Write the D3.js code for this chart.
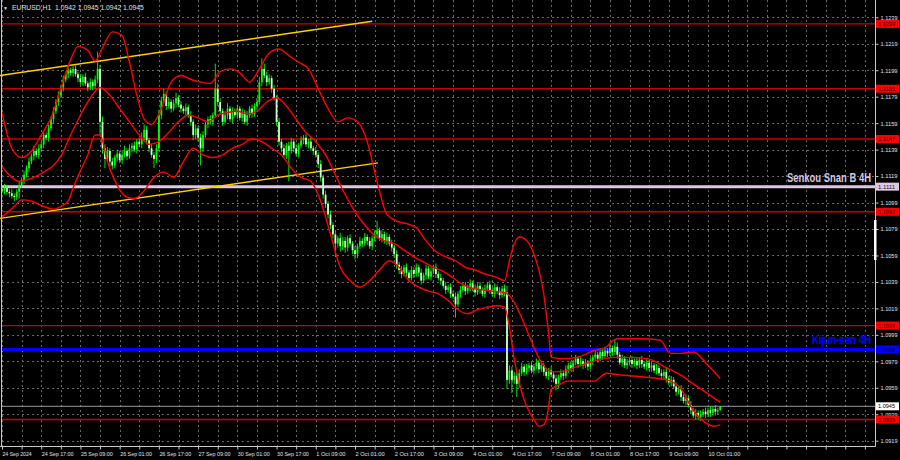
<!DOCTYPE html>
<html><head><meta charset="utf-8">
<script src="https://cdn.jsdelivr.net/npm/d3@7/dist/d3.min.js"></script>
<style>body{margin:0;background:#000}svg{display:block}</style>
</head><body><svg id="c" width="900" height="460"></svg>
<script>
// ---------- DATA ----------
const symbolTitle = "EURUSD,H1  1.0942 1.0945 1.0942 1.0945";
const firstOpen = 1.1109;
const closes = [
1.1108,1.1110,1.1107,1.1106,1.1104,1.1103,1.1107,1.1112,1.1116,1.1120,
1.1125,1.1130,1.1134,1.1138,1.1135,1.1140,1.1143,1.1150,1.1148,1.1155,
1.1162,1.1168,1.1175,1.1180,1.1186,1.1192,1.1196,1.1199,1.1197,1.1200,
1.1196,1.1193,1.1190,1.1194,1.1189,1.1186,1.1190,1.1187,1.1192,1.1200,
1.1160,1.1140,1.1132,1.1138,1.1130,1.1127,1.1133,1.1136,1.1131,1.1135,
1.1138,1.1134,1.1140,1.1142,1.1139,1.1145,1.1143,1.1148,1.1154,1.1146,
1.1140,1.1135,1.1132,1.1140,1.1165,1.1176,1.1181,1.1172,1.1175,1.1170,
1.1174,1.1178,1.1173,1.1170,1.1168,1.1171,1.1165,1.1160,1.1150,1.1155,
1.1148,1.1140,1.1150,1.1158,1.1162,1.1160,1.1165,1.1185,1.1175,1.1168,
1.1160,1.1165,1.1170,1.1162,1.1168,1.1165,1.1170,1.1163,1.1167,1.1160,
1.1165,1.1170,1.1166,1.1172,1.1175,1.1190,1.1200,1.1195,1.1190,1.1193,
1.1185,1.1178,1.1160,1.1145,1.1140,1.1135,1.1142,1.1138,1.1145,1.1140,
1.1136,1.1142,1.1146,1.1148,1.1143,1.1145,1.1140,1.1138,1.1135,1.1128,
1.1118,1.1105,1.1098,1.1090,1.1082,1.1075,1.1068,1.1072,1.1066,1.1070,
1.1065,1.1072,1.1068,1.1063,1.1060,1.1066,1.1070,1.1068,1.1073,1.1070,
1.1066,1.1072,1.1075,1.1078,1.1072,1.1075,1.1070,1.1073,1.1068,1.1065,
1.1060,1.1052,1.1048,1.1045,1.1050,1.1046,1.1042,1.1048,1.1045,1.1050,
1.1046,1.1040,1.1044,1.1049,1.1043,1.1047,1.1050,1.1045,1.1042,1.1040,
1.1036,1.1033,1.1035,1.1030,1.1028,1.1022,1.1030,1.1033,1.1036,1.1032,
1.1035,1.1038,1.1034,1.1031,1.1036,1.1033,1.1030,1.1034,1.1037,1.1033,
1.1030,1.1035,1.1032,1.1029,1.1034,1.1031,1.0965,1.0972,1.0965,1.0968,
1.0962,1.0970,1.0975,1.0971,1.0974,1.0976,1.0972,1.0975,1.0978,1.0973,
1.0976,1.0971,1.0968,1.0972,1.0969,1.0966,1.0962,1.0967,1.0970,1.0968,
1.0973,1.0976,1.0974,1.0978,1.0981,1.0977,1.0979,1.0976,1.0978,1.0975,
1.0979,1.0982,1.0984,1.0981,1.0986,1.0983,1.0987,1.0985,1.0989,1.0986,
1.0990,1.0984,1.0978,1.0981,1.0976,1.0978,1.0980,1.0977,1.0979,1.0976,
1.0980,1.0977,1.0975,1.0978,1.0974,1.0976,1.0972,1.0974,1.0970,1.0968,
1.0971,1.0966,1.0963,1.0965,1.0960,1.0956,1.0958,1.0952,1.0949,1.0951,
1.0946,1.0942,1.0938,1.0940,1.0937,1.0939,1.0941,1.0939,1.0942,1.0940,
1.0943,1.0941,1.0942,1.0945];
const wickUp = [
2,3,2,2,3,2,2,3,2,3, 2,3,2,4,2,3,2,3,2,3,
2,3,2,3,2,3,2,4,2,3, 3,2,3,2,3,2,3,2,3,13,
3,4,3,3,2,3,2,3,2,3, 4,2,3,2,3,2,3,4,4,3,
2,3,2,3,4,3,4,2,3,2, 3,4,2,3,2,3,2,3,2,3,
2,3,3,3,2,3,2,19,4,3, 2,3,4,2,3,2,3,2,3,2,
3,2,3,2,3,4,8,4,3,3, 2,3,2,3,2,3,2,3,3,2,
3,2,3,2,3,2,3,2,3,2, 3,2,3,2,3,2,3,2,4,3,
3,2,3,2,3,2,3,2,3,2, 3,2,3,7,2,3,2,3,2,3,
2,3,2,3,2,3,2,3,2,3, 2,3,2,3,2,3,2,3,2,3,
2,3,2,3,2,3,2,3,2,3, 2,3,2,3,2,3,2,3,2,3,
2,3,2,3,2,3,5,4,3,3, 4,3,3,2,3,2,3,2,3,2,
3,2,3,2,3,2,3,2,3,2, 3,2,3,2,3,2,3,2,3,2,
3,2,3,2,3,2,3,2,3,2, 6,3,2,3,2,3,2,3,2,3,
2,3,2,3,2,3,2,3,2,3, 2,3,2,3,2,3,2,3,2,3,
2,3,2,3,2,3,2,3,2,3, 2,3,2,0];
const wickDn = [
2,3,2,3,2,3,2,5,2,3, 2,3,2,3,2,3,2,3,2,3,
2,3,2,3,2,3,2,3,2,3, 2,3,2,3,2,3,2,3,2,3,
10,4,7,3,4,3,2,3,2,3, 2,3,2,3,2,3,2,3,2,3,
3,2,7,3,2,3,2,3,2,3, 2,3,2,3,2,3,2,3,4,3,
3,13,3,2,3,2,3,2,3,2, 3,2,3,2,3,2,3,2,3,2,
3,2,3,2,3,2,3,2,3,2, 3,2,3,3,3,2,3,23,2,3,
2,3,2,3,2,3,2,3,2,3, 3,3,3,3,3,3,10,3,4,3,
4,3,2,3,4,3,2,3,2,3, 2,3,2,3,2,3,2,3,2,3,
3,3,3,3,2,3,3,2,3,2, 3,3,2,3,2,3,2,3,2,3,
2,3,2,3,2,10,2,3,2,3, 2,3,2,3,2,3,2,3,2,3,
2,3,2,3,2,3,7,3,10,3, 10,3,2,3,2,3,2,3,2,3,
2,3,2,3,2,3,5,3,2,3, 2,3,2,3,2,3,2,3,2,3,
2,3,2,3,2,3,2,3,2,3, 2,3,2,3,2,3,2,3,2,3,
2,3,2,3,2,3,2,3,2,3, 2,3,2,3,2,3,2,3,2,3,
2,3,2,3,2,3,2,3,2,3, 2,3,2,0];

const timeLabelBars = [0,16,32,48,64,80,96,112,128,144,160,176,192,208,224,240,256,272,288];
const timeLabelTexts = ["24 Sep 2024","24 Sep 17:00","25 Sep 09:00","26 Sep 01:00","26 Sep 17:00","27 Sep 09:00","30 Sep 01:00","30 Sep 17:00","1 Oct 09:00","2 Oct 01:00","2 Oct 17:00","3 Oct 09:00","4 Oct 01:00","4 Oct 17:00","7 Oct 09:00","8 Oct 01:00","8 Oct 17:00","9 Oct 09:00","10 Oct 01:00"];
const priceTicks = [1.1239,1.1219,1.1199,1.1179,1.1159,1.1139,1.1119,1.1099,1.1079,1.1059,1.1039,1.1019,1.0999,1.0979,1.0959,1.0939,1.0919];

const levelPrices = [1.1234,1.1185,1.1147,1.1092,1.1006,1.0935];
const senkouPrice = 1.1111, senkouText = "Senkou Snan B 4H";
const kijunPrice = 1.0988, kijunText = "Kijun-sen 4H";
const lastPrice = 1.0945;

const channelUpperBars = [-1, 151], channelUpperVals = [1.1195, 1.1236];
const channelLowerBars = [-1, 153.4], channelLowerVals = [1.1087, 1.1129];

const upperBars = [0,4,8,12,16,20,24,28,31,35,38,41,45,49,52,55,58,61,65,69,73,77,81,85,89,93,97,101,105,109,113,117,121,125,129,133,137,141,145,149,153,157,161,165,169,173,177,181,185,189,193,197,201,205,207,209,211,213,215,217,219,221,222,223,224,229,234.5,241.3,246.7,249.4,252.1,260,268.5,272.6,276.6,282,287.5,293];
const upperVals = [1.1167,1.1140,1.1133,1.1138,1.1150,1.1163,1.1185,1.1207,1.1217,1.1214,1.1206,1.1216,1.1228,1.1225,1.1205,1.1180,1.1162,1.1158,1.1170,1.1190,1.1195,1.1192,1.1190,1.1189,1.1198,1.1200,1.1197,1.1190,1.1200,1.1212,1.1215,1.1210,1.1205,1.1200,1.1185,1.1170,1.1160,1.1163,1.1160,1.1145,1.1115,1.1090,1.1085,1.1083,1.1080,1.1070,1.1062,1.1058,1.1055,1.1050,1.1048,1.1045,1.1043,1.1040,1.1055,1.1068,1.1073,1.1072,1.1068,1.1060,1.1048,1.1030,1.1015,1.1000,1.0982,1.0981,1.0982,1.0987,1.0990,1.0995,1.0996,1.0996,1.0995,1.0985,1.0985,1.0986,1.0977,1.0966];
const midBars = [0,4,7,10,13,17,21,24,28,32,36,40,44,48,52,56,60,64,68,72,76,80,84,88,92,96,100,104,108,112,116,120,124,128,132,136,140,144,148,152,156,160,164,168,172,176,180,184,188,192,196,200,205,224.3,230.4,234.5,241.3,249.4,254.9,263,271.2,276.6,282,287.5,293];
const midVals = [1.1126,1.1118,1.1115,1.1116,1.1118,1.1122,1.1127,1.1134,1.1150,1.1165,1.1178,1.1186,1.1180,1.1170,1.1160,1.1150,1.1143,1.1145,1.1152,1.1160,1.1165,1.1163,1.1160,1.1165,1.1167,1.1168,1.1166,1.1168,1.1175,1.1178,1.1172,1.1162,1.1152,1.1145,1.1135,1.1120,1.1105,1.1092,1.1082,1.1074,1.1070,1.1068,1.1063,1.1058,1.1054,1.1050,1.1047,1.1042,1.1037,1.1034,1.1033,1.1032,1.1031,1.0971,1.0972,1.0975,1.0979,1.0982,1.0982,1.0981,1.0974,1.0969,1.0962,1.0955,1.0948];
const lowBars = [0,5,8,12,17,21,24,27,29,32,35,38,40,43,47,51,54,58,62,66,70,74,78,82,86,90,94,98,102,106,110,114,118,122,126,130,134,138,142,146,150,154,158,162,166,170,174,178,182,186,190,194,198,202,205,207,209,211,214,217,219,221,222,223,224,227,230.4,241.3,246.7,250.8,263,271.2,276.6,282,287.5,290.2,293];
const lowVals = [1.1088,1.1096,1.1101,1.1100,1.1096,1.1094,1.1096,1.1100,1.1110,1.1123,1.1135,1.1150,1.1150,1.1130,1.1112,1.1103,1.1102,1.1108,1.1118,1.1122,1.1118,1.1130,1.1140,1.1135,1.1133,1.1135,1.1140,1.1143,1.1147,1.1145,1.1140,1.1135,1.1125,1.1118,1.1115,1.1100,1.1075,1.1050,1.1040,1.1035,1.1040,1.1048,1.1055,1.1050,1.1040,1.1035,1.1032,1.1030,1.1025,1.1018,1.1015,1.1018,1.1020,1.1021,1.1020,1.1005,1.0980,1.0963,1.0945,1.0935,1.0930,1.0931,1.0935,1.0945,1.0958,1.0961,1.0964,1.0964,1.0970,1.0969,1.0967,1.0965,1.0959,1.0942,1.0932,1.0930,1.0931];

// ---------- DRAW ----------
const svg = d3.select("#c");
const right = 875.5, bottom = 446.5;
const x = d3.scaleLinear().domain([0, 288]).range([2, 708]);
const y = d3.scaleLinear().domain([1.0919, 1.1239]).range([440.7, 17.3]);
const FONT = "'Liberation Sans', Arial, sans-serif";

svg.append("rect").attr("width",900).attr("height",460).attr("fill","#000");

// grid
const gridG = svg.append("g").attr("stroke","#6a6a6a").attr("stroke-width",1).attr("stroke-dasharray","2,3");
gridG.selectAll("line.h").data(priceTicks).join("line")
  .attr("x1",2).attr("x2",right).attr("y1",d=>Math.round(y(d))+0.5).attr("y2",d=>Math.round(y(d))+0.5);
const vBars = d3.range(0, 360, 8).filter(b => x(b) < right - 2);
gridG.selectAll("line.v").data(vBars).join("line")
  .attr("x1",d=>Math.round(x(d))+0.5).attr("x2",d=>Math.round(x(d))+0.5).attr("y1",0).attr("y2",bottom);

// horizontal levels
svg.append("g").selectAll("line").data(levelPrices).join("line")
  .attr("x1",2).attr("x2",right).attr("y1",d=>y(d)).attr("y2",d=>y(d))
  .attr("stroke","#c80000").attr("stroke-width",1.4);
svg.append("line").attr("x1",2).attr("x2",right).attr("y1",y(senkouPrice)).attr("y2",y(senkouPrice))
  .attr("stroke","#dcc8e0").attr("stroke-width",3);
svg.append("line").attr("x1",2).attr("x2",right).attr("y1",y(kijunPrice)).attr("y2",y(kijunPrice))
  .attr("stroke","#0000ff").attr("stroke-width",3);
svg.append("line").attr("x1",2).attr("x2",right).attr("y1",y(lastPrice)).attr("y2",y(lastPrice))
  .attr("stroke","#9a9a9a").attr("stroke-width",1);

// channel lines
const chLine = d3.line().x(d=>x(d[0])).y(d=>y(d[1]));
svg.append("path").attr("d", chLine(d3.zip(channelUpperBars, channelUpperVals)))
  .attr("stroke","#ffd000").attr("stroke-width",1.4).attr("fill","none");
svg.append("path").attr("d", chLine(d3.zip(channelLowerBars, channelLowerVals)))
  .attr("stroke","#ffd000").attr("stroke-width",1.4).attr("fill","none");

// candles
const candles = closes.map((c,i)=>{
  const o = i===0 ? firstOpen : closes[i-1];
  return {i, o, c, h: Math.max(o,c)+wickUp[i]*1e-4, l: Math.min(o,c)-wickDn[i]*1e-4};
});
const cg = svg.append("g");
cg.selectAll("line").data(candles).join("line")
  .attr("x1",d=>x(d.i)).attr("x2",d=>x(d.i)).attr("y1",d=>y(d.h)).attr("y2",d=>y(d.l))
  .attr("stroke","#00ff00").attr("stroke-width",0.9);
cg.selectAll("rect").data(candles).join("rect")
  .attr("x",d=>x(d.i)-0.9).attr("width",1.8)
  .attr("y",d=>y(Math.max(d.o,d.c)))
  .attr("height",d=>Math.max(0.8, Math.abs(y(d.o)-y(d.c))))
  .attr("fill",d=> d.c>=d.o ? "#00ff00" : "#c8ffc8");

// bands
const bandLine = d3.line().x(d=>x(d[0])).y(d=>y(d[1])).curve(d3.curveMonotoneX);
[[upperBars,upperVals],[midBars,midVals],[lowBars,lowVals]].forEach(([b,v])=>{
  svg.append("path").attr("d", bandLine(d3.zip(b,v)))
    .attr("stroke","#ff0000").attr("stroke-width",1.4).attr("fill","none");
});

// labels for 4H lines
svg.append("text").attr("x",787).attr("y",182).text(senkouText)
  .attr("font-family",FONT).attr("font-weight","bold").attr("font-size",12.5)
  .attr("textLength",84).attr("lengthAdjust","spacingAndGlyphs").attr("fill","#d4c8e4");
svg.append("text").attr("x",812).attr("y",344).text(kijunText)
  .attr("font-family",FONT).attr("font-weight","bold").attr("font-size",12.5)
  .attr("textLength",59).attr("lengthAdjust","spacingAndGlyphs").attr("fill","#0000ff");

// frame
svg.append("line").attr("x1",1.5).attr("x2",1.5).attr("y1",0).attr("y2",bottom).attr("stroke","#c8c8c8");
// right axis
const yAxis = d3.axisRight(y).tickValues(priceTicks).tickFormat(d3.format(".4f")).tickSize(3).tickPadding(2);
const ya = svg.append("g").attr("transform",`translate(${right},0)`).call(yAxis);
ya.select(".domain").attr("stroke","#c8c8c8").attr("d",`M0,0V${bottom}`);
ya.selectAll(".tick line").attr("stroke","#c8c8c8");
ya.selectAll(".tick text").attr("fill","#e0e0e0").attr("font-family",FONT).attr("font-size",6)
  .attr("textLength",17).attr("lengthAdjust","spacingAndGlyphs");
// bottom axis
const labelMap = new Map(timeLabelBars.map((b,k)=>[b,timeLabelTexts[k]]));
const xAxis = d3.axisBottom(x).tickValues(vBars).tickFormat(d=>labelMap.get(d)||"").tickSize(3).tickPadding(2);
const xa = svg.append("g").attr("transform",`translate(0,${bottom})`).call(xAxis);
xa.select(".domain").attr("stroke","#c8c8c8").attr("d",`M0,0H${right}`);
xa.selectAll(".tick line").attr("stroke","#c8c8c8");
xa.selectAll(".tick text").attr("fill","#e0e0e0").attr("font-family",FONT).attr("font-size",6.2)
  .attr("text-anchor","start")
  .each(function(d){ const t = labelMap.get(d); if (t) d3.select(this).attr("textLength", t.length*2.65).attr("lengthAdjust","spacingAndGlyphs"); });

// price boxes on axis
const boxes = levelPrices.map(p=>({p, bg:"#ff0000", fg:"#300000"}))
  .concat([{p:senkouPrice,bg:"#dcc8e0",fg:"#202020"},{p:kijunPrice,bg:"#0000ff",fg:"#000040"},{p:lastPrice,bg:"#ffffff",fg:"#000000"}]);
const bg = svg.append("g");
boxes.forEach(b=>{
  bg.append("rect").attr("x",876).attr("y",y(b.p)-4).attr("width",23).attr("height",8).attr("fill",b.bg);
  bg.append("text").attr("x",878).attr("y",y(b.p)+2.2).text(d3.format(".4f")(b.p))
    .attr("fill",b.fg).attr("font-family",FONT).attr("font-size",6)
    .attr("textLength",17).attr("lengthAdjust","spacingAndGlyphs");
});
// scroll marker on right border
svg.append("rect").attr("x",874).attr("y",220).attr("width",2.5).attr("height",40).attr("fill","#ffffff");

// title
svg.append("text").attr("x",3).attr("y",10).text("\u25BC").attr("fill","#e0e0e0").attr("font-size",5).attr("font-family",FONT);
svg.append("text").attr("x",12).attr("y",10).text(symbolTitle).attr("fill","#e0e0e0")
  .attr("font-family",FONT).attr("font-size",6.8).style("white-space","pre");
</script>
</body></html>
